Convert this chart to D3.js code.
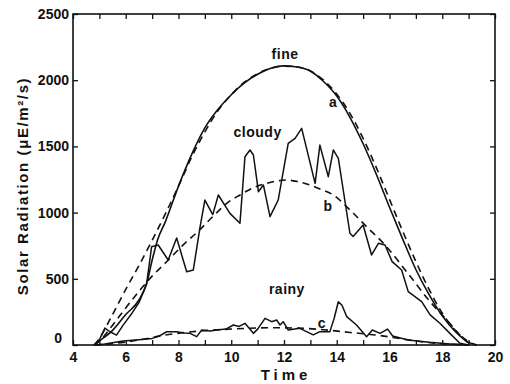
<html>
<head>
<script src="https://cdn.jsdelivr.net/npm/d3@7"></script>
<style>
  body { margin: 0; background: #fff; }
  text { font-family: "Liberation Sans", Arial, sans-serif; fill: #111; }
</style>
</head>
<body>
<script>
// measured series: [time, radiation]
var fine = [[4.8,0],[5.0,30],[5.5,110],[6.0,230],[6.5,340],[6.8,470],[7.0,640],[7.2,790],[7.5,930],[8.0,1200],
  [8.5,1440],[9.0,1640],[9.5,1780],[10,1890],[10.5,1980],[11,2045],[11.5,2090],[12,2108],[12.5,2100],[13,2070],
  [13.5,1990],[14,1880],[14.5,1720],[15,1520],[15.5,1290],[16,1040],[16.5,800],[17,570],[17.5,380],[18,220],
  [18.5,100],[19,20],[19.3,0]];

var cloudy = [[4.8,0],[5.0,40],[5.21,128],[5.4,100],[5.65,75],[5.9,150],[6.2,230],[6.5,320],[6.79,460],[6.98,742],
  [7.23,755],[7.61,642],[7.93,808],[8.31,553],[8.56,566],[8.82,894],[9.0,1095],[9.3,985],[9.51,1133],[9.95,994],
  [10.33,919],[10.52,1422],[10.71,1473],[10.84,1435],[11.03,1158],[11.22,1208],[11.47,969],[11.78,1095],[12.16,1523],
  [12.42,1561],[12.67,1636],[13.18,1221],[13.36,1510],[13.68,1271],[13.87,1473],[14.06,1410],[14.5,844],[14.62,820],
  [15.0,906],[15.32,680],[15.58,768],[15.83,755],[16.1,630],[16.46,566],[16.71,403],[17.22,327],[17.54,227],
  [17.91,164],[18.29,88],[18.67,13],[19.0,0]];

var rainy = [[4.8,0],[5.2,8],[5.9,30],[6.5,40],[7.0,50],[7.3,70],[7.55,100],[7.93,100],[8.2,90],[8.44,88],
  [8.69,63],[8.88,113],[9.2,105],[9.45,113],[9.8,120],[10.08,151],[10.3,140],[10.52,164],[10.84,88],[11.0,120],
  [11.28,201],[11.4,190],[11.53,176],[11.72,189],[11.85,151],[11.97,176],[12.16,113],[12.6,126],[13.11,76],
  [13.36,101],[13.74,101],[13.9,200],[14.06,327],[14.2,300],[14.38,214],[14.75,151],[15.13,63],[15.35,113],
  [15.64,88],[15.93,120],[16.12,68],[16.7,38],[17.5,20],[18.3,8],[19.0,0]];

// model curves (dashed)
var curveA = [[4.8,0],[5.0,50],[5.5,230],[6.0,420],[6.5,600],[7.0,790],[7.5,990],[8.0,1200],[8.5,1420],[9.0,1610],
  [9.5,1770],[10,1890],[10.5,1985],[11,2050],[11.5,2090],[12,2105],[12.5,2100],[13,2070],[13.5,2000],[14,1895],
  [14.5,1750],[15,1560],[15.5,1340],[16,1100],[16.5,860],[17,630],[17.5,420],[18,240],[18.5,110],[19,25],[19.3,0]];

var curveB = [[4.8,0],[5.0,30],[5.5,150],[6.0,280],[6.54,415],[7.0,520],[7.55,629],[8.2,760],[8.8,869],[9.3,970],
  [9.83,1070],[10.33,1133],[10.8,1185],[11.34,1221],[12.1,1246],[12.5,1235],[12.99,1208],[13.4,1175],[13.87,1133],
  [14.5,1020],[15.13,894],[15.89,742],[16.65,553],[17.54,327],[18.17,189],[18.67,76],[19.0,15],[19.3,0]];

var curveC = [[4.8,0],[5.5,10],[6.5,38],[7.5,75],[8.5,100],[9.5,115],[10.5,125],[11.5,130],[12.5,128],[13.5,115],
  [14.5,95],[15.5,75],[16.2,55],[17,30],[18,10],[19,0]];

var yTicks = [0, 500, 1000, 1500, 2000, 2500];
var xLabels = [4, 6, 8, 10, 12, 14, 16, 18, 20];

var labels = [
  {t: "fine", x: 12.04, y: 2160},
  {t: "a", x: 13.86, y: 1800},
  {t: "cloudy", x: 11.0, y: 1570},
  {t: "b", x: 13.67, y: 1010},
  {t: "rainy", x: 12.11, y: 385},
  {t: "c", x: 13.44, y: 130}
];

var width = 510, height = 384;
var mLeft = 73, mRight = 495, mTop = 14, mBottom = 345;

var svg = d3.select("body").append("svg")
  .attr("width", width)
  .attr("height", height);

var x = d3.scaleLinear().domain([4, 20]).range([mLeft, mRight]);
var y = d3.scaleLinear().domain([0, 2500]).range([mBottom, mTop]);

// axes, ticks pointing inward
var xAxis = d3.axisBottom(x).ticks(16).tickSize(-5).tickPadding(7)
  .tickFormat(function(d) { return xLabels.indexOf(d) >= 0 ? d : ""; });
var gx = svg.append("g").attr("transform", "translate(0," + mBottom + ")").call(xAxis);

svg.append("g").attr("transform", "translate(0," + mTop + ")")
  .call(d3.axisTop(x).ticks(16).tickSize(-5).tickFormat(""));

var gy = svg.append("g").attr("transform", "translate(" + mLeft + ",0)")
  .call(d3.axisLeft(y).tickValues(yTicks).tickSize(-5).tickPadding(4).tickFormat(d3.format("d")));

svg.append("g").attr("transform", "translate(" + mRight + ",0)")
  .call(d3.axisRight(y).tickValues(yTicks).tickSize(-5).tickFormat(""));

svg.selectAll(".domain").remove();
svg.selectAll(".tick line").attr("stroke", "#111").attr("stroke-width", 1.3);
gx.selectAll("text").style("font-size", "14px").style("font-weight", "bold").attr("fill", "#111");
gy.selectAll("text").style("font-size", "14px").style("font-weight", "bold").attr("fill", "#111");
// the 0 label sits a little higher and further left
gy.selectAll(".tick").filter(function(d) { return d === 0; }).select("text")
  .attr("x", -11).attr("dy", "-0.15em");

svg.append("rect")
  .attr("x", mLeft).attr("y", mTop)
  .attr("width", mRight - mLeft).attr("height", mBottom - mTop)
  .attr("fill", "none").attr("stroke", "#111").attr("stroke-width", 1.6);

var line = d3.line().x(function(d) { return x(d[0]); }).y(function(d) { return y(d[1]); });
var smooth = d3.line().curve(d3.curveMonotoneX)
  .x(function(d) { return x(d[0]); }).y(function(d) { return y(d[1]); });

// dashed model curves
[curveA, curveB, curveC].forEach(function(s) {
  svg.append("path").datum(s).attr("d", smooth)
    .attr("fill", "none").attr("stroke", "#111").attr("stroke-width", 1.6)
    .attr("stroke-dasharray", "7,5");
});

// measured
svg.append("path").datum(fine).attr("d", smooth)
  .attr("fill", "none").attr("stroke", "#111").attr("stroke-width", 1.6);
[cloudy, rainy].forEach(function(s) {
  svg.append("path").datum(s).attr("d", line)
    .attr("fill", "none").attr("stroke", "#111").attr("stroke-width", 1.5)
    .attr("stroke-linejoin", "round");
});

svg.selectAll(".lbl")
  .data(labels)
  .enter()
  .append("text")
  .attr("class", "lbl")
  .attr("x", function(d) { return x(d.x); })
  .attr("y", function(d) { return y(d.y); })
  .attr("text-anchor", "middle")
  .style("font-size", "14px")
  .style("font-weight", "bold")
  .style("letter-spacing", "0.5px")
  .text(function(d) { return d.t; });

svg.append("text")
  .attr("x", (mLeft + mRight) / 2 + 2)
  .attr("y", 380)
  .attr("text-anchor", "middle")
  .style("font-size", "15px")
  .style("font-weight", "bold")
  .style("letter-spacing", "4px")
  .text("Time");

svg.append("text")
  .attr("transform", "translate(28,186) rotate(-90)")
  .attr("text-anchor", "middle")
  .style("font-size", "15px")
  .style("letter-spacing", "1.6px")
  .style("font-weight", "600")
  .text("Solar Radiation (μE/m²/s)");
</script>
</body>
</html>
